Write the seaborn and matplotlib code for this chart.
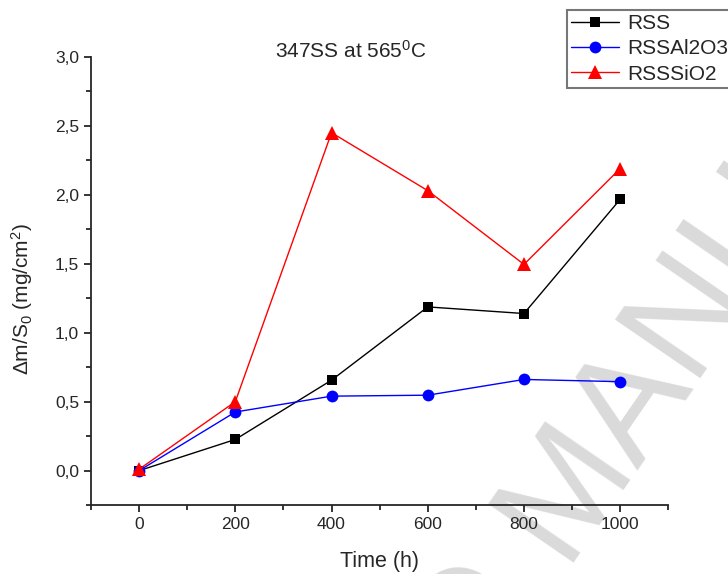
import pandas as pd
import matplotlib
matplotlib.use('Agg')
import matplotlib.pyplot as plt
import seaborn as sns
from matplotlib.ticker import MultipleLocator, FuncFormatter

# data
time_h = [0, 200, 400, 600, 800, 1000]
rss = [0.0, 0.226, 0.656, 1.187, 1.139, 1.967]
rss_al2o3 = [0.0, 0.425, 0.54, 0.547, 0.661, 0.645]
rss_sio2 = [0.01, 0.50, 2.45, 2.03, 1.495, 2.19]
series_names = ['RSS', 'RSSAl2O3', 'RSSSiO2']

df = pd.DataFrame({'time': time_h * 3,
                   'value': rss + rss_al2o3 + rss_sio2,
                   'series': [n for n in series_names for _ in time_h]})

sns.set_style('ticks')
plt.rcParams['font.family'] = ['Liberation Sans', 'DejaVu Sans']
plt.rcParams['mathtext.fontset'] = 'custom'
plt.rcParams['mathtext.rm'] = 'Liberation Sans'
plt.rcParams['mathtext.it'] = 'Liberation Sans:italic'

fig = plt.figure(figsize=(7.28, 5.74), dpi=100)
ax = fig.add_axes([0.125, 0.12, 0.793, 0.781])

# watermark of the source page
wm = dict(fontsize=108, color='#dadada', rotation=55.5, rotation_mode='anchor',
          va='center', zorder=-1)
fig.text(530 / 728, 1 - 540 / 574, 'MANUSCRIPT', ha='left', **wm)
fig.text(504 / 728, 1 - 578 / 574, 'ACCEPTED', ha='right', **wm)
ax.set_facecolor('none')

colors = {'RSS': 'black', 'RSSAl2O3': 'blue', 'RSSSiO2': 'red'}
markers = {'RSS': 's', 'RSSAl2O3': 'o', 'RSSSiO2': '^'}
msizes = {'RSS': 7, 'RSSAl2O3': 8.5, 'RSSSiO2': 9.5}
for name in series_names:
    sub = df[df['series'] == name]
    sns.lineplot(data=sub, x='time', y='value', ax=ax, color=colors[name],
                 marker=markers[name], markersize=msizes[name], markeredgewidth=0,
                 linewidth=1, label=name)

ax.set_xlim(-100, 1100)
ax.set_ylim(-0.25, 3.0)
ax.xaxis.set_major_locator(MultipleLocator(200))
ax.xaxis.set_minor_locator(MultipleLocator(100))
ax.yaxis.set_major_locator(MultipleLocator(0.5))
ax.yaxis.set_minor_locator(MultipleLocator(0.25))
ax.yaxis.set_major_formatter(FuncFormatter(lambda v, p: f'{v:.1f}'.replace('.', ',')))
ax.tick_params(which='major', length=5, width=1.3, labelsize=12.5, direction='out')
ax.tick_params(which='minor', length=3.5, width=1.3, direction='out')
for s in ['top', 'right']:
    ax.spines[s].set_visible(False)
for s in ['left', 'bottom']:
    ax.spines[s].set_linewidth(1.3)

ax.set_xlabel('Time (h)', fontsize=15.5, labelpad=14)
ax.set_ylabel(r'$\Delta$m/S$_0$ (mg/cm$^2$)', fontsize=15)
ax.yaxis.set_label_coords(-0.097, 0.46)
ax.text(351 / 728, 1 - 51 / 574, r'347SS at 565$^0$C', transform=fig.transFigure,
        ha='center', va='center', fontsize=15)

ax.get_legend().remove()
h, l = ax.get_legend_handles_labels()
leg = fig.legend(h, l, loc='upper left', bbox_to_anchor=(567 / 728, 1 - 10 / 574),
                 borderaxespad=0, fontsize=15, frameon=True, fancybox=False,
                 handlelength=2.3, handletextpad=0.4, borderpad=0.2, labelspacing=0.3)
leg.get_frame().set_edgecolor('#555555')
leg.get_frame().set_linewidth(1.5)

fig.savefig('out.png', dpi=100)
